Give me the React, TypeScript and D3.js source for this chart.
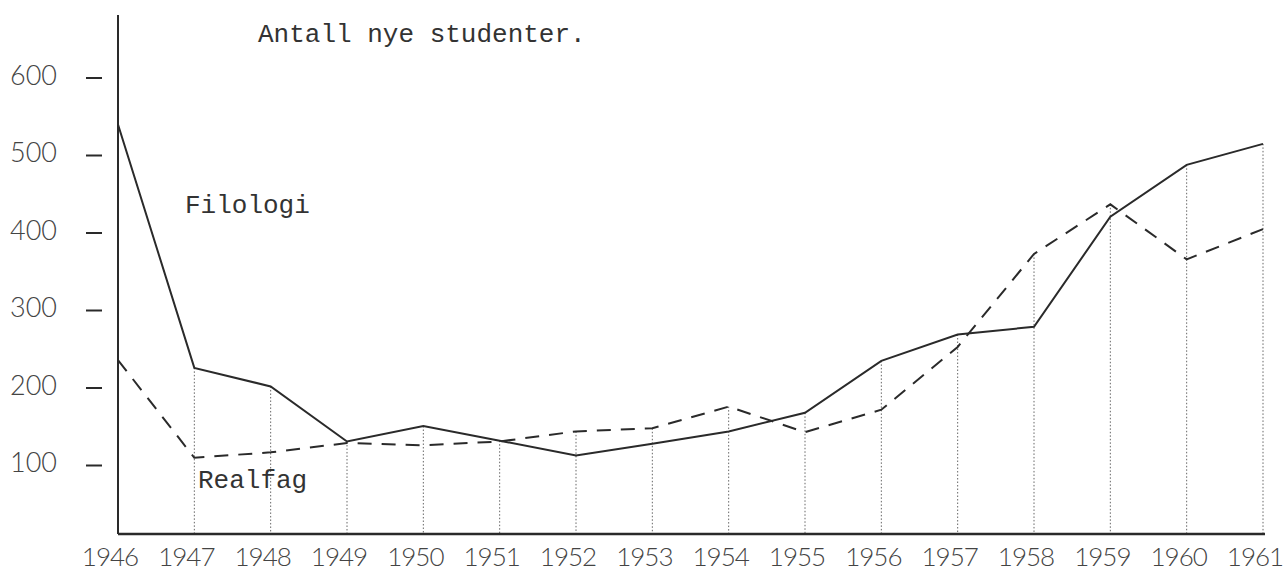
import React from "react";
import * as d3 from "d3";

const years = [1946, 1947, 1948, 1949, 1950, 1951, 1952, 1953, 1954, 1955, 1956, 1957, 1958, 1959, 1960, 1961];
const filologi = [540, 226, 202, 131, 151, 132, 113, 128, 144, 168, 235, 269, 279, 421, 488, 515];
const realfag = [236, 110, 117, 129, 126, 131, 144, 148, 176, 143, 172, 253, 373, 437, 366, 405];
const yTicks = [100, 200, 300, 400, 500, 600];
const title = "Antall nye studenter.";

const W = 1286;
const H = 574;

function App() {
  const x = d3.scaleLinear().domain([1946, 1961]).range([118, 1263]);
  const y = d3.scaleLinear().domain([0, 600]).range([543, 78]);
  const baseY = 534;

  const line = d3
    .line<number>()
    .x((_, i) => x(years[i]))
    .y(d => y(d));

  const mono = "'Liberation Mono', 'Courier New', monospace";
  const sans = "Lato, 'Open Sans', sans-serif";
  const ink = "#2a2a2a";

  return (
    <svg
      width={W}
      height={H}
      style={{ position: "absolute", left: 0, top: 0, background: "#fff" }}
    >
      {/* dotted drop lines */}
      {years.slice(1).map((yr, k) => {
        const i = k + 1;
        const top = Math.min(y(filologi[i]), y(realfag[i]));
        return (
          <line
            key={yr}
            x1={x(yr)}
            x2={x(yr)}
            y1={top}
            y2={baseY}
            stroke="#666"
            strokeWidth={1}
            strokeDasharray="1.5 2"
          />
        );
      })}

      {/* axes */}
      <line x1={118} x2={118} y1={15} y2={baseY} stroke={ink} strokeWidth={2} />
      <line x1={118} x2={1265} y1={baseY} y2={baseY} stroke={ink} strokeWidth={2.5} />

      {/* y ticks */}
      {yTicks.map(t => (
        <g key={t}>
          <line x1={86} x2={102} y1={y(t)} y2={y(t)} stroke={ink} strokeWidth={2} />
          <text
            x={57}
            y={y(t)}
            textAnchor="end"
            dominantBaseline="middle"
            fontFamily={sans}
            fontWeight={300}
            fontSize={27}
            fill="#444"
          >
            {t}
          </text>
        </g>
      ))}

      {/* x labels */}
      {years.map(yr => (
        <text
          key={yr}
          x={x(yr) - 8}
          y={566}
          textAnchor="middle"
          fontFamily={sans}
          fontWeight={300}
          fontSize={26}
          letterSpacing={-1}
          fill="#444"
        >
          {yr}
        </text>
      ))}

      {/* series */}
      <path d={line(filologi) || ""} fill="none" stroke={ink} strokeWidth={2} />
      <path
        d={line(realfag) || ""}
        fill="none"
        stroke={ink}
        strokeWidth={2}
        strokeDasharray="14 10"
      />

      {/* typed labels */}
      <text x={258} y={42} fontFamily={mono} fontSize={26} fill="#333">
        {title}
      </text>
      <text x={185} y={213} fontFamily={mono} fontSize={26} fill="#333">
        Filologi
      </text>
      <text x={198} y={488} fontFamily={mono} fontSize={26} fill="#333">
        Realfag
      </text>
    </svg>
  );
}

export default App;
